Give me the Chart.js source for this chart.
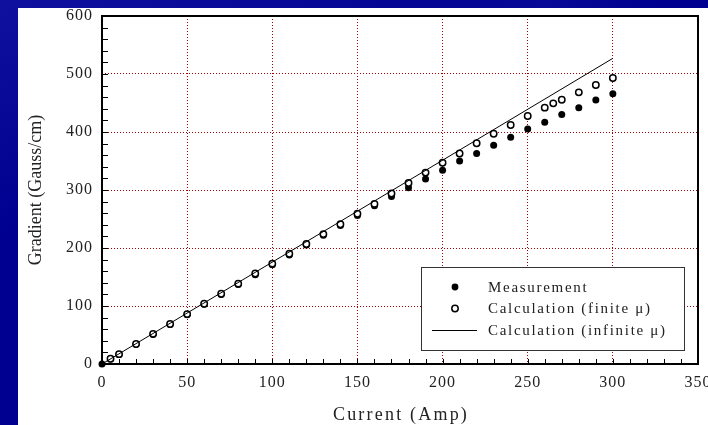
<!DOCTYPE html>
<html>
<head>
<meta charset="utf-8">
<script src="https://cdn.jsdelivr.net/npm/chart.js@4.4.1/dist/chart.umd.min.js"></script>
<style>
  html, body { margin: 0; padding: 0; width: 708px; height: 425px; overflow: hidden; }
  body {
    position: relative;
    background:
      linear-gradient(160deg, rgba(30,30,170,0.55) 0%, rgba(0,0,0,0) 35%),
      linear-gradient(100deg, rgba(0,0,0,0) 55%, rgba(20,20,160,0.35) 70%, rgba(0,0,0,0) 85%),
      #000090;
  }
  #panel { position: absolute; left: 18px; top: 8px; width: 690px; height: 417px; background: #ffffff; }
  canvas { display: block; }
</style>
</head>
<body>
<div id="panel"><canvas id="chart" width="690" height="417"></canvas></div>
<script>
// Quadrupole gradient versus excitation current
const measuredCurrent = [0, 5, 10, 20, 30, 40, 50, 60, 70, 80, 90, 100, 110, 120, 130, 140, 150, 160,
  170, 180, 190, 200, 210, 220, 230, 240, 250, 260, 270, 280, 290, 300];
const measuredGradient = [0, 8.5, 16.5, 34, 51, 68, 85, 103, 120, 137, 154, 171, 188, 205, 222, 239, 256, 273,
  289, 304, 319, 334, 350, 363, 377, 391, 405, 417, 430, 442, 455, 466];

const finiteCurrent = [5, 10, 20, 30, 40, 50, 60, 70, 80, 90, 100, 110, 120, 130, 140, 150, 160,
  170, 180, 190, 200, 210, 220, 230, 240, 250, 260, 265, 270, 280, 290, 300];
const finiteGradient = [9, 17, 34.5, 52, 69, 86, 104, 121, 138.5, 156, 173, 190, 207, 224, 241, 259, 276,
  294, 312, 330, 347, 363, 380.5, 397, 412, 427.6, 442, 449.4, 455.7, 468.4, 481, 493];

const infiniteCurrent = [0, 300];
const infiniteGradient = [0, 527];

const xTicks = [0, 50, 100, 150, 200, 250, 300, 350];
const yTicks = [0, 100, 200, 300, 400, 500, 600];

const legendLabels = ['Measurement', 'Calculation (finite \u03bc)', 'Calculation (infinite \u03bc)'];
const xTitle = 'Current (Amp)';
const yTitle = 'Gradient (Gauss/cm)';

const pairs = (xs, ys) => xs.map((x, i) => ({ x: x, y: ys[i] }));

const SERIF = "'Liberation Serif', 'Times New Roman', serif";
const INK = '#222222';
const GRID = '#a00000';

const noPadding = s => { s.paddingLeft = 0; s.paddingRight = 0; s.paddingTop = 0; s.paddingBottom = 0; };

// Inner frame, minor tick marks, axis titles and the boxed legend
const decorations = {
  id: 'decorations',
  beforeDraw(chart) {
    chart.ctx.letterSpacing = '1px';
  },
  beforeDatasetsDraw(chart) {
    const { ctx, chartArea: a, scales: { x, y } } = chart;
    ctx.save();
    ctx.letterSpacing = '0px';
    ctx.strokeStyle = '#000';
    ctx.lineWidth = 1;
    ctx.beginPath();
    for (let v = 10; v < 350; v += 10) {
      const px = Math.round(x.getPixelForValue(v)) + 0.5;
      ctx.moveTo(px, a.bottom);
      ctx.lineTo(px, a.bottom - 5);
    }
    for (let v = 20; v < 600; v += 20) {
      const py = Math.round(y.getPixelForValue(v)) + 0.5;
      ctx.moveTo(a.left, py);
      ctx.lineTo(a.left + 6, py);
    }
    ctx.stroke();
    ctx.lineWidth = 2;
    ctx.strokeRect(a.left, a.top, a.right - a.left, a.bottom - a.top);
    ctx.restore();
  },
  afterDatasetsDraw(chart) {
    const { ctx, chartArea: a } = chart;
    ctx.save();
    // legend box
    const w = 263, h = 83;
    const bx = a.right - 14 - w, by = a.bottom - 14 - h;
    ctx.fillStyle = '#fff';
    ctx.fillRect(bx, by, w, h);
    ctx.strokeStyle = '#333';
    ctx.lineWidth = 1;
    ctx.strokeRect(Math.round(bx) + 0.5, Math.round(by) + 0.5, w, h);
    const mx = bx + 34;
    const rows = [by + 20, by + 41.5, by + 63.5];
    // filled marker
    ctx.fillStyle = '#000';
    ctx.beginPath(); ctx.arc(mx, rows[0], 3.4, 0, Math.PI * 2); ctx.fill();
    // open marker
    ctx.fillStyle = '#fff';
    ctx.strokeStyle = '#000';
    ctx.lineWidth = 1.5;
    ctx.beginPath(); ctx.arc(mx, rows[1], 3.2, 0, Math.PI * 2); ctx.fill(); ctx.stroke();
    // line sample
    ctx.lineWidth = 1;
    ctx.beginPath(); ctx.moveTo(bx + 11, rows[2]); ctx.lineTo(bx + 56, rows[2]); ctx.stroke();
    // texts
    ctx.fillStyle = INK;
    ctx.font = '15px ' + SERIF;
    ctx.letterSpacing = '1.7px';
    ctx.textBaseline = 'middle';
    ctx.textAlign = 'left';
    legendLabels.forEach((t, i) => ctx.fillText(t, bx + 67, rows[i] + 1));
    ctx.restore();
  },
  afterDraw(chart) {
    const { ctx, chartArea: a } = chart;
    ctx.save();
    ctx.fillStyle = INK;
    ctx.font = '18px ' + SERIF;
    ctx.textAlign = 'center';
    ctx.textBaseline = 'alphabetic';
    ctx.letterSpacing = '2.2px';
    ctx.fillText(xTitle, (a.left + a.right) / 2 + 1, a.bottom + 56);
    ctx.letterSpacing = '0px';
    ctx.translate(23, (a.top + a.bottom) / 2);
    ctx.rotate(-Math.PI / 2);
    ctx.fillText(yTitle, 0, 0);
    ctx.restore();
  }
};

new Chart(document.getElementById('chart'), {
  type: 'scatter',
  data: {
    datasets: [
      {
        label: legendLabels[2],
        data: pairs(infiniteCurrent, infiniteGradient),
        showLine: true,
        borderColor: '#000',
        borderWidth: 1,
        pointRadius: 0,
        order: 0
      },
      {
        label: legendLabels[1],
        data: pairs(finiteCurrent, finiteGradient),
        pointRadius: 3.2,
        pointBackgroundColor: '#fff',
        pointBorderColor: '#000',
        pointBorderWidth: 1.5,
        order: 1
      },
      {
        label: legendLabels[0],
        data: pairs(measuredCurrent, measuredGradient),
        pointRadius: 3.5,
        pointBackgroundColor: '#000',
        pointBorderColor: '#000',
        pointBorderWidth: 0,
        clip: false,
        order: 2
      }
    ]
  },
  options: {
    responsive: false,
    animation: false,
    devicePixelRatio: 1,
    layout: { padding: { top: 8, right: 10, left: 0, bottom: 0 } },
    plugins: { legend: { display: false }, tooltip: { enabled: false } },
    scales: {
      x: {
        type: 'linear',
        min: 0, max: 350,
        afterBuildTicks: s => { s.ticks = xTicks.map(v => ({ value: v })); },
        afterFit: s => { s.height = 61; noPadding(s); },
        ticks: { color: INK, font: { family: SERIF, size: 16 }, padding: 9, maxRotation: 0, autoSkip: false },
        grid: {
          drawTicks: false,
          lineWidth: 1,
          color: c => (c.tick && c.tick.value > 0 && c.tick.value < 350) ? GRID : 'rgba(0,0,0,0)'
        },
        border: { display: false, dash: [1, 2] }
      },
      y: {
        type: 'linear',
        min: 0, max: 600,
        afterBuildTicks: s => { s.ticks = yTicks.map(v => ({ value: v })); },
        afterFit: s => { s.width = 84; noPadding(s); },
        ticks: { color: INK, font: { family: SERIF, size: 16 }, padding: 9 },
        grid: {
          drawTicks: false,
          lineWidth: 1,
          color: c => (c.tick && c.tick.value > 0 && c.tick.value < 600) ? GRID : 'rgba(0,0,0,0)'
        },
        border: { display: false, dash: [1, 2] }
      }
    }
  },
  plugins: [decorations]
});
</script>
</body>
</html>
